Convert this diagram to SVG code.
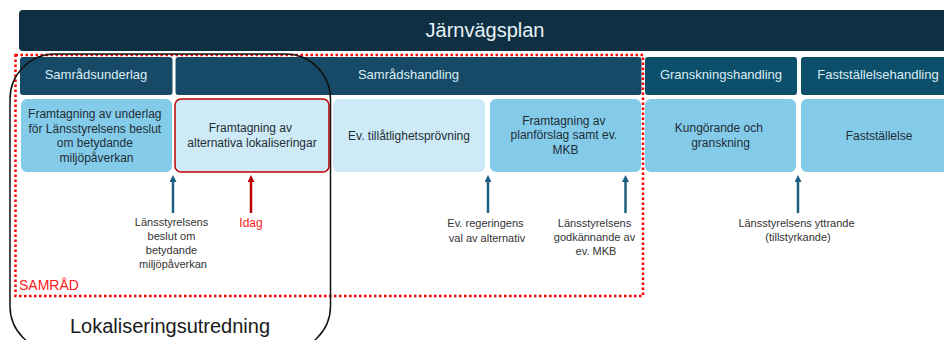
<svg xmlns="http://www.w3.org/2000/svg" width="944" height="340" viewBox="0 0 944 340">
  <defs>
    <style>
      .hdr { fill: #164a66; }
      .hdr2 { fill: #0b4f6b; }
      .hdrtxt { font-family: "Liberation Sans", Arial, sans-serif; font-size: 13px; fill: #dcecf4; text-anchor: middle; }
      .mid { fill: #84cbea; }
      .light { fill: #cdeaf6; }
      .boxtxt { font-family: "Liberation Sans", Arial, sans-serif; font-size: 12px; fill: #1f2d35; text-anchor: middle; }
      .lbl { font-family: "Liberation Sans", Arial, sans-serif; font-size: 11px; fill: #333333; text-anchor: middle; }
      .arrow { stroke: #1c5f82; stroke-width: 2.5; fill: none; }
      .arrowred { stroke: #c00000; stroke-width: 2.5; fill: none; }
    </style>
    <marker id="ahBlue" markerUnits="userSpaceOnUse" markerWidth="8" markerHeight="8" refX="0" refY="3.5" orient="auto">
      <path d="M0,0 L7,3.5 L0,7 z" fill="#1c5f82"/>
    </marker>
    <marker id="ahRed" markerUnits="userSpaceOnUse" markerWidth="8" markerHeight="8" refX="0" refY="3.5" orient="auto">
      <path d="M0,0 L7,3.5 L0,7 z" fill="#c00000"/>
    </marker>
  </defs>

  <rect width="944" height="340" fill="#ffffff"/>

  <g id="jarnvagsplan">
    <rect x="19" y="10" width="940" height="41" rx="4" fill="#0e3042"/>
    <text x="485" y="37" font-family="'Liberation Sans', Arial, sans-serif" font-size="20" fill="#e8f2f7" text-anchor="middle">Järnvägsplan</text>
  </g>

  <g id="hdr-samradsunderlag">
    <rect class="hdr" x="20" y="57" width="152.5" height="38" rx="3"/>
    <text class="hdrtxt" x="96" y="79">Samrådsunderlag</text>
  </g>
  <g id="hdr-samradshandling">
    <rect class="hdr" x="175.5" y="57" width="466" height="38" rx="3"/>
    <text class="hdrtxt" x="408.5" y="79">Samrådshandling</text>
  </g>
  <g id="hdr-granskningshandling">
    <rect class="hdr2" x="645" y="57" width="152" height="38" rx="3"/>
    <text class="hdrtxt" x="721" y="79">Granskningshandling</text>
  </g>
  <g id="hdr-faststallelsehandling">
    <rect class="hdr2" x="801" y="57" width="156" height="38" rx="3"/>
    <text class="hdrtxt" x="878" y="79">Fastställelsehandling</text>
  </g>

  <g id="box-underlag">
    <rect class="mid" x="21" y="99" width="151" height="73" rx="6"/>
    <text class="boxtxt">
      <tspan x="96.5" y="118">Framtagning av underlag</tspan>
      <tspan x="96.5" y="132.5">för Länsstyrelsens beslut</tspan>
      <tspan x="96.5" y="147">om betydande</tspan>
      <tspan x="96.5" y="161.5">miljöpåverkan</tspan>
    </text>
  </g>
  <g id="box-alternativa">
    <rect class="light" x="175" y="99" width="154" height="73" rx="6" stroke="#c00000" stroke-width="1.5"/>
    <text class="boxtxt">
      <tspan x="252" y="132">Framtagning av</tspan>
      <tspan x="252" y="146.5">alternativa lokaliseringar</tspan>
    </text>
  </g>
  <g id="box-tillatlighet">
    <rect class="light" x="333" y="99" width="152" height="73" rx="6"/>
    <text class="boxtxt" x="409" y="140">Ev. tillåtlighetsprövning</text>
  </g>
  <g id="box-planforslag">
    <rect class="mid" x="490" y="99" width="151" height="73" rx="6"/>
    <text class="boxtxt">
      <tspan x="565.5" y="124.5">Framtagning av</tspan>
      <tspan x="565.5" y="139">planförslag samt ev.</tspan>
      <tspan x="565.5" y="153.5">MKB</tspan>
    </text>
  </g>
  <g id="box-kungorande">
    <rect class="mid" x="645" y="99" width="151" height="73" rx="6"/>
    <text class="boxtxt">
      <tspan x="720.5" y="132">Kungörande och</tspan>
      <tspan x="720.5" y="146.5">granskning</tspan>
    </text>
  </g>
  <g id="box-faststallelse">
    <rect class="mid" x="801" y="99" width="156" height="73" rx="6"/>
    <text class="boxtxt" x="879" y="140">Fastställelse</text>
  </g>

  <g id="samrad">
    <rect x="15.5" y="55" width="627.5" height="241" fill="none" stroke="#ff0000" stroke-width="2.5" stroke-dasharray="2.5 2.5"/>
    <text x="19" y="290" font-family="'Liberation Sans', Arial, sans-serif" font-size="14" fill="#ff2020">SAMRÅD</text>
  </g>

  <g id="lokaliseringsutredning">
    <rect x="10" y="54" width="320.5" height="297" rx="45" fill="none" stroke="#111111" stroke-width="1.5"/>
    <text x="170" y="333" font-family="'Liberation Sans', Arial, sans-serif" font-size="20" fill="#1a1a1a" text-anchor="middle">Lokaliseringsutredning</text>
  </g>

  <g id="connectors">
    <line class="arrow" x1="173" y1="213" x2="173" y2="182" marker-end="url(#ahBlue)"/>
    <line class="arrowred" x1="251" y1="213" x2="251" y2="182" marker-end="url(#ahRed)"/>
    <line class="arrow" x1="488" y1="213" x2="488" y2="182" marker-end="url(#ahBlue)"/>
    <line class="arrow" x1="625.5" y1="213" x2="625.5" y2="182" marker-end="url(#ahBlue)"/>
    <line class="arrow" x1="798" y1="213" x2="798" y2="182" marker-end="url(#ahBlue)"/>
  </g>

  <g id="labels">
    <text class="lbl">
      <tspan x="173" y="225.5">Länsstyrelsens</tspan>
      <tspan x="173" y="239.5">beslut om</tspan>
      <tspan x="173" y="253.5">betydande</tspan>
      <tspan x="173" y="267.5">miljöpåverkan</tspan>
    </text>
    <text x="251" y="227" font-family="'Liberation Sans', Arial, sans-serif" font-size="12" fill="#ff2020" text-anchor="middle">Idag</text>
    <text class="lbl">
      <tspan x="487" y="227">Ev. regeringens</tspan>
      <tspan x="487" y="241.5">val av alternativ</tspan>
    </text>
    <text class="lbl">
      <tspan x="596" y="227">Länsstyrelsens</tspan>
      <tspan x="596" y="241">godkännande av</tspan>
      <tspan x="596" y="255">ev. MKB</tspan>
    </text>
    <text class="lbl">
      <tspan x="798" y="227">Länsstyrelsens yttrande</tspan>
      <tspan x="798" y="241">(tillstyrkande)</tspan>
    </text>
  </g>
</svg>
